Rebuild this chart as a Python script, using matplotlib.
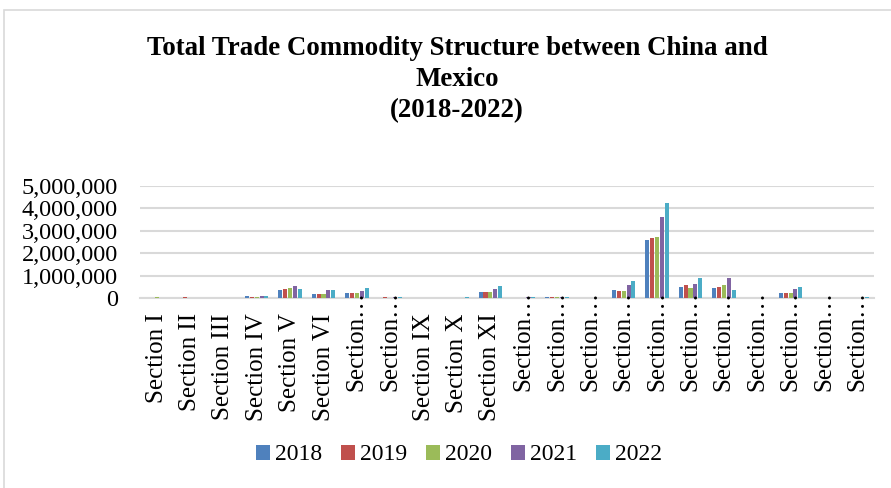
import matplotlib
matplotlib.use("Agg")
import matplotlib.pyplot as plt
import matplotlib.transforms as mtransforms
from matplotlib.patches import Rectangle
import numpy as np

plt.rcParams['font.family'] = ['Liberation Serif', 'DejaVu Serif']

sections = ["Section I", "Section II", "Section III", "Section IV", "Section V",
            "Section VI", "Section…", "Section…", "Section IX", "Section X",
            "Section XI", "Section…", "Section…", "Section…", "Section…",
            "Section…", "Section…", "Section…", "Section…", "Section…",
            "Section…", "Section…"]

years = ["2018", "2019", "2020", "2021", "2022"]

v2018 = [20000, 20000, 5000, 70000, 340000, 180000, 210000, 20000, 10000, 10000,
         280000, 20000, 30000, 3000, 360000, 2590000, 500000, 460000, 2000,
         220000, 1000, 5000]
v2019 = [20000, 25000, 5000, 60000, 400000, 190000, 220000, 60000, 10000, 10000,
         280000, 20000, 30000, 3000, 310000, 2680000, 560000, 500000, 2000,
         240000, 1000, 5000]
v2020 = [25000, 20000, 5000, 60000, 460000, 180000, 210000, 20000, 10000, 10000,
         250000, 15000, 30000, 3000, 310000, 2710000, 440000, 590000, 2000,
         240000, 1000, 5000]
v2021 = [20000, 20000, 5000, 70000, 550000, 340000, 330000, 40000, 10000, 15000,
         410000, 40000, 50000, 3000, 580000, 3630000, 640000, 890000, 2000,
         410000, 1000, 20000]
v2022 = [15000, 15000, 5000, 70000, 410000, 370000, 440000, 40000, 10000, 50000,
         530000, 40000, 50000, 3000, 770000, 4220000, 890000, 370000, 2000,
         500000, 1000, 40000]

series = [v2018, v2019, v2020, v2021, v2022]
colors = ["#4F81BD", "#C0504D", "#9BBB59", "#8064A2", "#4BACC6"]

W, H = 891, 488
fig = plt.figure(figsize=(W / 100, H / 100), dpi=100)

# chart frame
fig.patches.append(Rectangle((4 / W, -0.05), 1.1, 1 - 10 / H + 0.05,
                             transform=fig.transFigure, fill=False,
                             edgecolor="#d9d9d9", linewidth=1.2))

ax = fig.add_axes([140 / W, 1 - 298 / H, (874 - 140) / W, (298 - 186) / H])

x = np.arange(len(sections))
step = 0.145
for k, (vals, col, yr) in enumerate(zip(series, colors, years)):
    ax.bar(x + (k - 2) * step, vals, width=0.122, color=col, linewidth=0,
           label=yr, zorder=3)

ax.set_xlim(-0.5, len(sections) - 0.5)
ax.set_ylim(0, 5000000)
ax.set_yticks(np.arange(0, 5000001, 1000000))
ax.yaxis.set_major_formatter(matplotlib.ticker.FuncFormatter(lambda v, p: f"{int(v):,}"))
ax.tick_params(axis="y", length=0, pad=16, labelsize=17.5)
ax.grid(axis="y", color="#d9d9d9", linewidth=1.5, zorder=0)
for s in ["top", "right", "left"]:
    ax.spines[s].set_visible(False)
ax.spines["bottom"].set_color("#d9d9d9")
ax.spines["bottom"].set_linewidth(1.5)
ax.set_xticks([])

# category labels, rotated
trans = mtransforms.blended_transform_factory(ax.transData, ax.transAxes)
for i, lab in enumerate(sections):
    dy = 5 if lab.endswith("…") else -11
    off = mtransforms.offset_copy(trans, fig=fig, x=0, y=dy, units="points")
    ax.text(i, 0, lab, transform=off, rotation=90, ha="center", va="top",
            fontsize=18, clip_on=False, zorder=5)

fig.text(457 / W, 1 - 79.5 / H,
         "Total Trade Commodity Structure between China and\nMexico\n(2018-2022)",
         ha="center", va="center", fontsize=19.4, fontweight="bold",
         linespacing=1.3)

fig.legend(loc="center", bbox_to_anchor=(459 / W, 1 - 455 / H), ncol=5,
           frameon=False, fontsize=17, handlelength=0.6, handleheight=0.6,
           handletextpad=0.2, columnspacing=0.8, borderaxespad=0)

fig.savefig("out.png", dpi=100)
